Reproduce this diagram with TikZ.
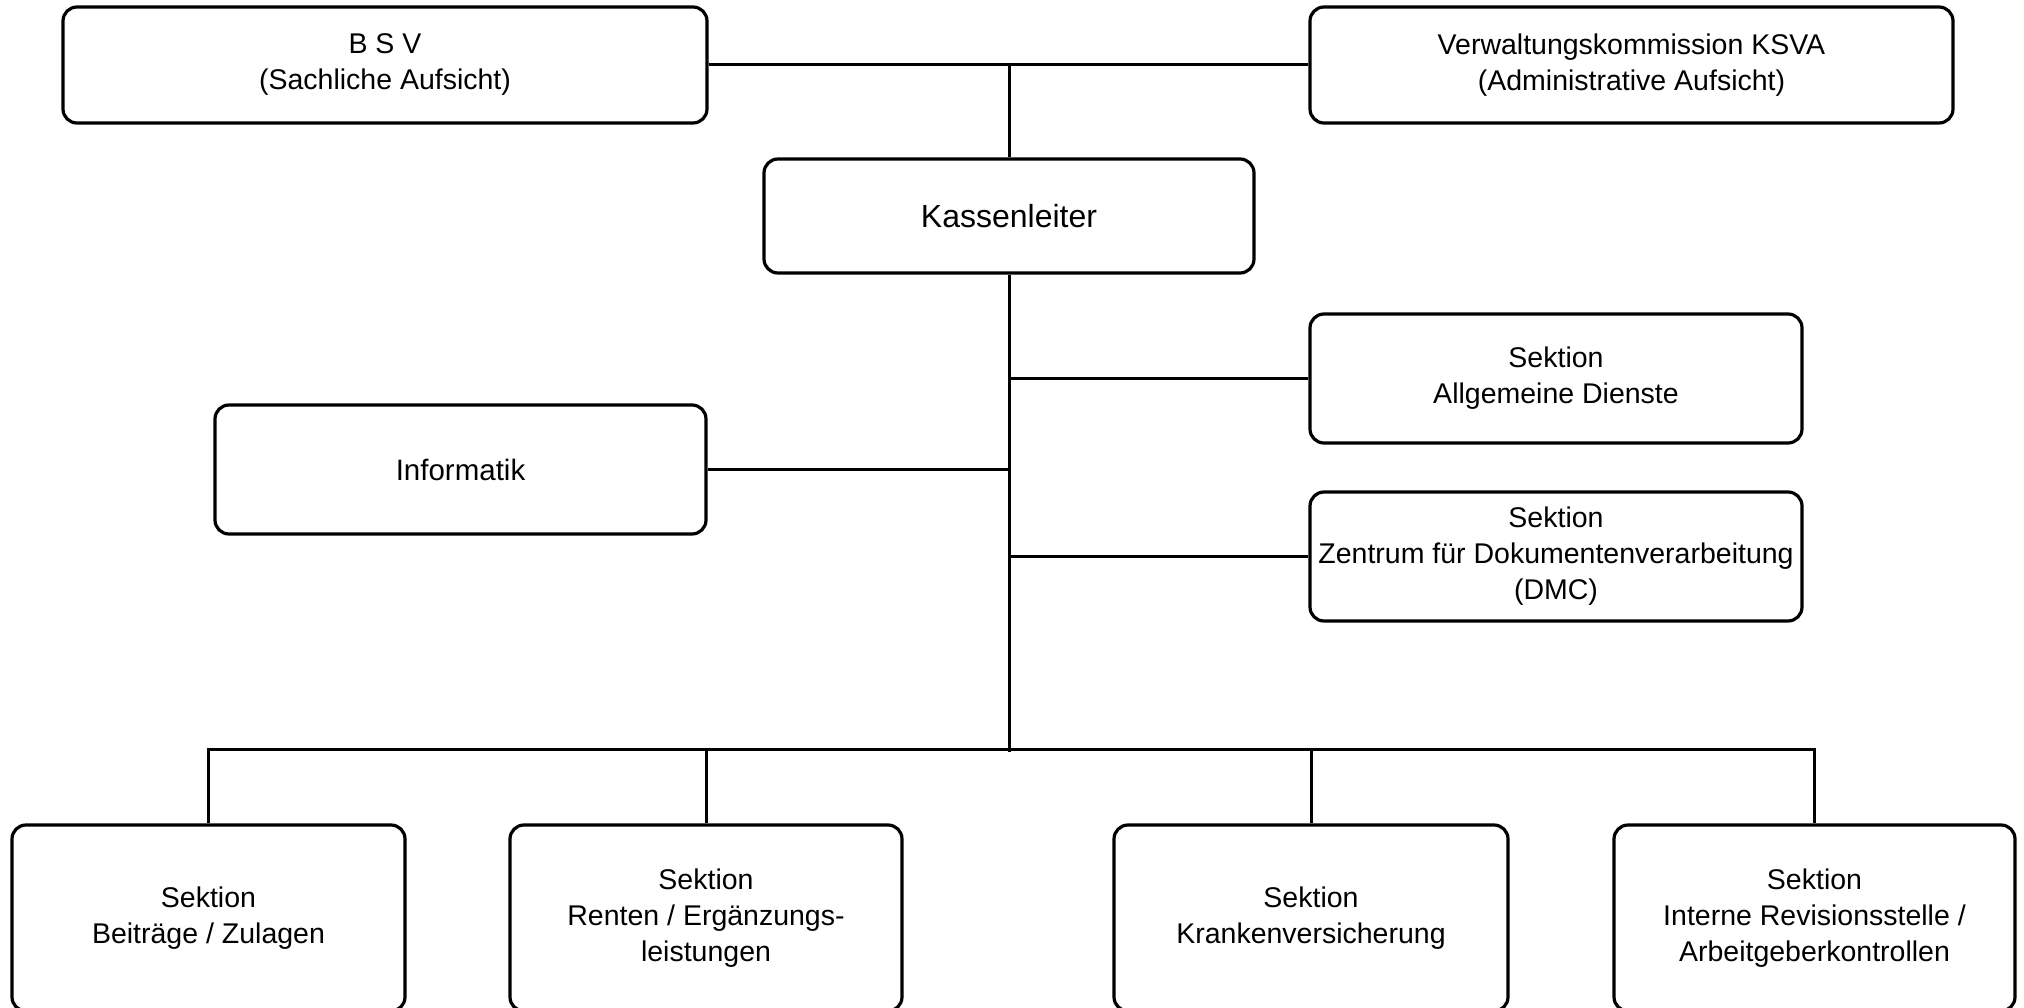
\documentclass[tikz,border=0pt]{standalone}
\usepackage{fontspec}
\setmainfont{Liberation Sans}
\begin{document}
\begin{tikzpicture}[x=1pt,y=-1pt,
  box/.style={draw, line width=3.2pt, rounded corners=14pt, align=center,
    font=\fontsize{28.5}{36}\selectfont, inner sep=0pt, fill=white},
  bigtext/.style={font=\fontsize{32}{38}\selectfont},
  midtext/.style={font=\fontsize{29.5}{36}\selectfont},
  conn/.style={line width=3pt}]
\clip (0,0) rectangle (2024,1008);
\fill[white] (0,0) rectangle (2024,1008);

\node[box, minimum width=644pt, minimum height=116pt] (bsv) at (385,65) {B S V\\(Sachliche Aufsicht)};
\node[box, minimum width=643pt, minimum height=116pt] (ksva) at (1631.5,65) {Verwaltungskommission KSVA\\(Administrative Aufsicht)};
\node[box, bigtext, minimum width=490pt, minimum height=114pt] (kl) at (1009,216) {Kassenleiter};
\node[box, minimum width=492pt, minimum height=129pt] (sa) at (1556,378.5) {Sektion\\Allgemeine Dienste};
\node[box, minimum width=492pt, minimum height=129pt] (dmc) at (1556,556.5) {Sektion\\Zentrum für Dokumentenverarbeitung\\(DMC)};
\node[box, midtext, minimum width=491pt, minimum height=129pt] (inf) at (460.5,469.5) {Informatik};

\node[box, minimum width=393pt, minimum height=186pt] (b1) at (208.5,918) {Sektion\\Beiträge / Zulagen};
\node[box, minimum width=392pt, minimum height=186pt] (b2) at (706,918) {Sektion\\Renten / Ergänzungs-\\leistungen};
\node[box, minimum width=394pt, minimum height=186pt] (b3) at (1311,918) {Sektion\\Krankenversicherung};
\node[box, minimum width=401pt, minimum height=186pt] (b4) at (1814.5,918) {Sektion\\Interne Revisionsstelle /\\Arbeitgeberkontrollen};

\coordinate (top) at (1009,65);
\coordinate (trunkend) at (1009,752);
\coordinate (busy) at (0,749);

\draw[conn] (bsv.east) -- (ksva.west);
\draw[conn] (top) -- (kl.north);
\draw[conn] (kl.south) -- (trunkend);
\draw[conn] (sa.west) -- (sa.west -| kl.south);
\draw[conn] (dmc.west) -- (dmc.west -| kl.south);
\draw[conn] (inf.east) -- (inf.east -| kl.south);

\draw[conn] (b1.north) -- (b1.north |- busy) -- (b4.north |- busy) -- (b4.north);
\draw[conn] (b2.north) -- (b2.north |- busy);
\draw[conn] (b3.north) -- (b3.north |- busy);
\end{tikzpicture}
\end{document}
